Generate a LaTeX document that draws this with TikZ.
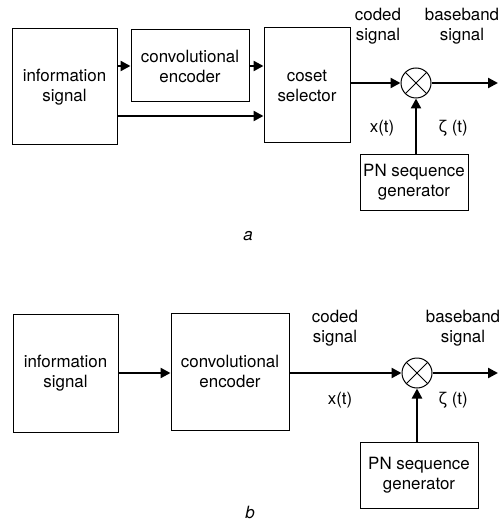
\documentclass[tikz,border=0pt]{standalone}
\usepackage{fontspec}
\setmainfont{TeX Gyre Heros}
\usetikzlibrary{arrows.meta}

\begin{document}
\begin{tikzpicture}[x=1pt,y=-1pt,
    font=\fontsize{16.9}{20}\selectfont,
    blk/.style={draw,line width=1pt,align=center,inner sep=0pt},
    mix/.style={circle,draw,line width=1pt,minimum size=30pt,inner sep=0pt,
      path picture={\draw[line width=1pt]
        (path picture bounding box.north east) -- (path picture bounding box.south west)
        (path picture bounding box.north west) -- (path picture bounding box.south east);}},
    lbl/.style={align=center,inner sep=0pt},
    sig/.style={line width=2.3pt,-{Triangle[length=10pt,width=10pt]}}]
      \useasboundingbox (0,0) rectangle (502,521);
      % part a
      \draw
        (64.5,87) node[blk,minimum width=105pt,minimum height=116pt] (infoA){information\\signal}
        (190,66) node[blk,minimum width=118pt,minimum height=72pt] (encA){convolutional\\encoder}
        (307,85.5) node[blk,minimum width=86pt,minimum height=115pt] (selA){coset\\selector}
        (416,83) node[mix] (mixA){}
        (414,182.5) node[blk,minimum width=108pt,minimum height=55pt] (pnA){PN sequence\\generator}
        (378,26) node[lbl] (codedA){coded\\signal}
        (462,26) node[lbl] (baseA){baseband\\signal}
        (382,128) node[lbl] (xA){x(t)}
        (453,128) node[lbl] (zA){ζ (t)}
        (248,236) node[lbl] (capA){\itshape a};
      \coordinate (outA) at (498,83);
      \begin{scope}[sig]
        \draw (infoA.east |- encA) to (encA);
        \draw (encA) to (encA -| selA.west);
        \draw ([yshift=-29pt]infoA.east) to ([yshift=-29pt]infoA.east -| selA.west);
        \draw (selA.east |- mixA) to (mixA);
        \draw (mixA) to (outA);
        \draw (pnA.north -| mixA) to (mixA);
      \end{scope}
      % part b
      \draw
        (65.5,373) node[blk,minimum width=105pt,minimum height=118pt] (infoB){information\\signal}
        (230,371.5) node[blk,minimum width=118pt,minimum height=117pt] (encB){convolutional\\encoder}
        (417,373) node[mix] (mixB){}
        (419,475) node[blk,minimum width=118pt,minimum height=66pt] (pnB){PN sequence\\generator}
        (335,328) node[lbl] (codedB){coded\\signal}
        (463,328) node[lbl] (baseB){baseband\\signal}
        (340,400) node[lbl] (xB){x(t)}
        (453,400) node[lbl] (zB){ζ (t)}
        (250,512) node[lbl] (capB){\itshape b};
      \coordinate (outB) at (498,373);
      \begin{scope}[sig]
        \draw (infoB.east |- mixB) to (infoB.east -| encB.west);
        \draw (encB.east |- mixB) to (mixB);
        \draw (mixB) to (outB);
        \draw (pnB.north -| mixB) to (mixB);
      \end{scope}
    \end{tikzpicture}
\end{document}
